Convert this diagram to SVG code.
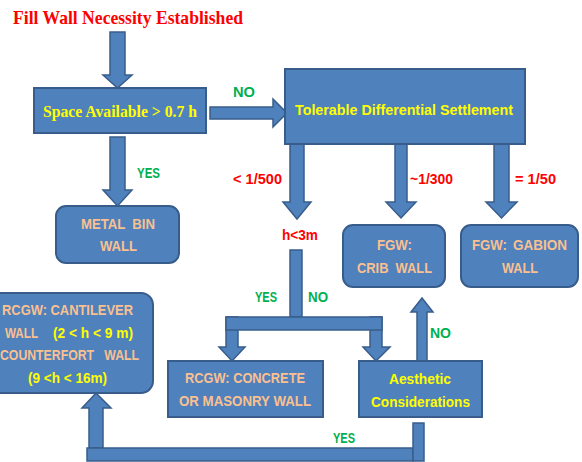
<svg xmlns="http://www.w3.org/2000/svg" width="582" height="462" viewBox="0 0 582 462">
<style>
.box{fill:#4F81BD;stroke:#385D8A;stroke-width:2}
.arr{fill:#4F81BD;stroke:#385D8A;stroke-width:1.5;stroke-linejoin:miter}
.t{font-family:"Liberation Sans",Arial,sans-serif;font-weight:bold;font-size:15.5px}
.serif{font-family:"Liberation Serif","Times New Roman",serif;font-weight:bold}
.yel{fill:#FFFF00}
.pch{fill:#FAC090}
.grn{fill:#00B050;font-family:"Liberation Sans",Arial,sans-serif;font-weight:bold;font-size:14px}
.red{fill:#FF0000;font-family:"Liberation Sans",Arial,sans-serif;font-weight:bold;font-size:14.5px}
</style>
<rect width="582" height="462" fill="#FFFFFF"/>
<text class="serif" x="13" y="24" font-size="19" fill="#FF0000" textLength="230" lengthAdjust="spacingAndGlyphs">Fill Wall Necessity Established</text>

<g id="connectors">
<polygon class="arr" points="110,32 125,32 125,75 132,75 117.5,88 103,75 110,75"/>
<polygon class="arr" points="110,137 125,137 125,190 132,190 117.5,206 103,190 110,190"/>
<polygon class="arr" points="210,107 273,107 273,99 287,113 273,127 273,119 210,119"/>
<polygon class="arr" points="290,144 304,144 304,202 311,202 297,219 283,202 290,202"/>
<polygon class="arr" points="395,144 407,144 407,202 416,202 401,218 386,202 395,202"/>
<polygon class="arr" points="494,144 509,144 509,202 517,202 501.5,218 486,202 494,202"/>
<rect class="arr" x="290" y="250" width="12" height="67"/>
<polygon class="arr" points="226,317 238,317 238,347 245,347 232,361 219,347 226,347"/>
<polygon class="arr" points="370,317 382,317 382,347 390,347 376,361 363,347 370,347"/>
<rect class="arr" x="226" y="317" width="156" height="13"/>
<polygon class="arr" points="417,361 427,361 427,312 433,312 422,298 411,312 417,312"/>
<polygon class="arr" points="89,448 103,448 103,408 111,408 96,393 82,408 89,408"/>
<rect class="arr" x="87" y="448" width="326" height="13"/>
<rect class="arr" x="413" y="423" width="11" height="38"/>
<text class="grn" x="233" y="97" textLength="22" lengthAdjust="spacingAndGlyphs">NO</text>
<text class="grn" x="137" y="178" textLength="23" lengthAdjust="spacingAndGlyphs">YES</text>
<text class="red" x="233" y="184" textLength="49" lengthAdjust="spacingAndGlyphs">&lt; 1/500</text>
<text class="red" x="410" y="184" textLength="43" lengthAdjust="spacingAndGlyphs">~1/300</text>
<text class="red" x="515" y="184" textLength="41" lengthAdjust="spacingAndGlyphs">= 1/50</text>
<text class="red" x="282" y="240" textLength="36" lengthAdjust="spacingAndGlyphs">h&lt;3m</text>
<text class="grn" x="255" y="302" textLength="22" lengthAdjust="spacingAndGlyphs">YES</text>
<text class="grn" x="308" y="302" textLength="20" lengthAdjust="spacingAndGlyphs">NO</text>
<text class="grn" x="430" y="338" textLength="21" lengthAdjust="spacingAndGlyphs">NO</text>
<text class="grn" x="333" y="443" textLength="22" lengthAdjust="spacingAndGlyphs">YES</text>
</g>

<g id="space">
<rect class="box" x="34" y="88" width="172" height="45"/>
<text class="serif yel" x="43" y="117" font-size="17" textLength="154" lengthAdjust="spacingAndGlyphs">Space Available &gt; 0.7 h</text>
</g>
<g id="tolerable">
<rect class="box" x="285" y="69" width="240" height="75"/>
<text class="t yel" x="295" y="115" textLength="218" lengthAdjust="spacingAndGlyphs">Tolerable Differential Settlement</text>
</g>
<g id="metalbin">
<rect class="box" x="56" y="206" width="123" height="57" rx="10"/>
<text class="t pch" x="81" y="229" textLength="74" lengthAdjust="spacingAndGlyphs" xml:space="preserve">METAL  BIN</text>
<text class="t pch" x="100" y="251" textLength="37" lengthAdjust="spacingAndGlyphs">WALL</text>
</g>
<g id="crib">
<rect class="box" x="343" y="225" width="102" height="62" rx="10"/>
<text class="t pch" x="377" y="250" textLength="35" lengthAdjust="spacingAndGlyphs">FGW:</text>
<text class="t pch" x="357" y="273" textLength="75" lengthAdjust="spacingAndGlyphs" xml:space="preserve">CRIB  WALL</text>
</g>
<g id="gabion">
<rect class="box" x="461" y="225" width="117" height="62" rx="10"/>
<text class="t pch" x="472" y="250" font-size="14.5" textLength="35" lengthAdjust="spacingAndGlyphs">FGW:</text>
<text class="t pch" x="513" y="250" font-size="14.5" textLength="54" lengthAdjust="spacingAndGlyphs">GABION</text>
<text class="t pch" x="502" y="273" textLength="36" lengthAdjust="spacingAndGlyphs">WALL</text>
</g>
<g id="cantilever">
<rect class="box" x="-15" y="293" width="168" height="100" rx="12"/>
<text class="t pch" x="2" y="315" textLength="131" lengthAdjust="spacingAndGlyphs">RCGW: CANTILEVER</text>
<text class="t pch" x="5" y="338" textLength="33" lengthAdjust="spacingAndGlyphs">WALL</text>
<text class="t yel" x="53" y="338" textLength="80" lengthAdjust="spacingAndGlyphs">(2 &lt; h &lt; 9 m)</text>
<text class="t pch" x="0" y="360" textLength="139" lengthAdjust="spacingAndGlyphs" xml:space="preserve">COUNTERFORT   WALL</text>
<text class="t yel" x="28" y="383" textLength="79" lengthAdjust="spacingAndGlyphs">(9 &lt;h &lt; 16m)</text>
</g>
<g id="concrete">
<rect class="box" x="168" y="361" width="155" height="56"/>
<text class="t pch" x="185" y="383" textLength="120" lengthAdjust="spacingAndGlyphs">RCGW: CONCRETE</text>
<text class="t pch" x="179" y="406" textLength="132" lengthAdjust="spacingAndGlyphs">OR MASONRY WALL</text>
</g>
<g id="aesthetic">
<rect class="box" x="359" y="361" width="123" height="56"/>
<text class="t yel" x="389" y="384" textLength="62" lengthAdjust="spacingAndGlyphs">Aesthetic</text>
<text class="t yel" x="371" y="407" textLength="99" lengthAdjust="spacingAndGlyphs">Considerations</text>
</g>
</svg>
